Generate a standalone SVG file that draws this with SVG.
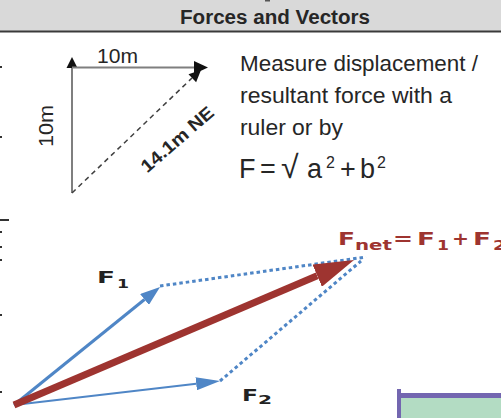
<svg xmlns="http://www.w3.org/2000/svg" width="501" height="418" viewBox="0 0 501 418">
<style>
.t{font-family:"Liberation Sans",Arial,sans-serif;fill:#262626}
.b{font-family:"DejaVu Sans",Verdana,sans-serif;font-weight:bold}
.gl{stroke:#7f7f7f;stroke-width:2;fill:none}
.dot{stroke:#4f86c6;stroke-width:3;stroke-dasharray:3.5 3;fill:none}
.mk{fill:#333}
</style>
<defs>
<marker id="hb1" markerUnits="userSpaceOnUse" viewBox="0 0 20 14" markerWidth="20" markerHeight="14" refX="0" refY="7" orient="auto"><path d="M0,0 L20,7 L0,14 z" fill="#4f86c6"/></marker>
<marker id="hb2" markerUnits="userSpaceOnUse" viewBox="0 0 24 13" markerWidth="24" markerHeight="13" refX="0" refY="6.5" orient="auto"><path d="M0,0 L24,6.5 L0,13 z" fill="#4f86c6"/></marker>
<marker id="hr" markerUnits="userSpaceOnUse" viewBox="0 0 40 24" markerWidth="40" markerHeight="24" refX="0" refY="12" orient="auto"><path d="M0,0 L40,12 L0,24 z" fill="#9e3430"/></marker>
</defs>

<g id="header">
<rect x="0" y="0" width="501" height="31" fill="#d9d9d9"/>
<rect x="265" y="0" width="5" height="1.5" fill="#555"/>
<line x1="0" y1="31.5" x2="501" y2="31.5" stroke="#3a3a3a" stroke-width="2"/>
<text x="275" y="24" text-anchor="middle" class="t" font-weight="bold" font-size="20" textLength="190" lengthAdjust="spacingAndGlyphs" fill="#1a1a1a">Forces and Vectors</text>
</g>

<g id="margin-marks">
<rect class="mk" x="0" y="66" width="2" height="2"/>
<rect class="mk" x="0" y="136" width="2" height="2"/>
<rect class="mk" x="0" y="219" width="9" height="2"/>
<rect class="mk" x="0" y="231" width="2" height="2"/>
<rect class="mk" x="0" y="246" width="2" height="2"/>
<rect class="mk" x="0" y="259" width="2" height="2"/>
<rect class="mk" x="0" y="314" width="2" height="2"/>
<rect class="mk" x="0" y="391" width="2" height="2"/>
</g>

<g id="triangle">
<line class="gl" x1="72" y1="67" x2="72" y2="193"/>
<polygon points="72,57 66.5,68 77.5,68" fill="#111"/>
<line class="gl" x1="72" y1="67.5" x2="197" y2="67.5"/>
<polygon points="208,67.5 194,61 194,74" fill="#111"/>
<line x1="72" y1="193" x2="192" y2="78" stroke="#404040" stroke-width="1.5" stroke-dasharray="5 4"/>
<polygon points="201,70 196.1,82.2 188.5,74.2" fill="#111"/>
<text class="t" x="97" y="63" font-size="20" textLength="41" lengthAdjust="spacingAndGlyphs" fill="#404040">10m</text>
<text class="t" transform="translate(53,126) rotate(-90)" x="0" y="0" text-anchor="middle" font-size="20" textLength="42" lengthAdjust="spacingAndGlyphs" fill="#404040">10m</text>
<text class="t" transform="translate(177,139) rotate(-41)" x="0" y="6.5" text-anchor="middle" font-size="18" font-weight="bold" textLength="90" lengthAdjust="spacingAndGlyphs" fill="#1a1a1a">14.1m NE</text>
</g>

<g id="explanation">
<text class="t" x="240" y="71" font-size="22" textLength="238" lengthAdjust="spacingAndGlyphs">Measure displacement /</text>
<text class="t" x="240" y="103" font-size="22" textLength="212" lengthAdjust="spacingAndGlyphs">resultant force with a</text>
<text class="t" x="240" y="135" font-size="22" textLength="103" lengthAdjust="spacingAndGlyphs">ruler or by</text>
<text class="t" y="178" font-size="27"><tspan x="239">F</tspan><tspan x="260">=</tspan><tspan x="281" font-size="32">√</tspan><tspan x="307" font-size="27">a</tspan><tspan x="326" y="168" font-size="16">2</tspan><tspan x="340" y="178">+</tspan><tspan x="360">b</tspan><tspan x="377" y="168" font-size="16">2</tspan></text>
</g>

<g id="connectors">
<path class="dot" d="M160,286 L366,257"/>
<path class="dot" d="M220,381 L361,261"/>
<path d="M14,405 L144.5,299.5" stroke="#4f86c6" stroke-width="3" fill="none" marker-end="url(#hb1)"/>
<path d="M14,405 L196.2,383.8" stroke="#4f86c6" stroke-width="2" fill="none" marker-end="url(#hb2)"/>
<path d="M14,405 L317.2,275.7" stroke="#9e3430" stroke-width="7" fill="none" marker-end="url(#hr)"/>
</g>

<g id="label-f1" class="b" fill="#222">
<text x="97" y="283" font-size="16" textLength="18" lengthAdjust="spacingAndGlyphs">F</text>
<text x="117" y="288" font-size="13" textLength="12" lengthAdjust="spacingAndGlyphs">1</text>
</g>
<g id="label-f2" class="b" fill="#222">
<text x="242" y="401" font-size="16" textLength="16" lengthAdjust="spacingAndGlyphs">F</text>
<text x="258" y="404" font-size="13" textLength="14" lengthAdjust="spacingAndGlyphs">2</text>
</g>
<g id="label-fnet" class="b" fill="#9e3430">
<text x="338" y="245" font-size="18" textLength="17" lengthAdjust="spacingAndGlyphs">F</text>
<text x="355" y="250" font-size="14" textLength="37" lengthAdjust="spacingAndGlyphs">net</text>
<text x="393" y="245" font-size="18" textLength="20" lengthAdjust="spacingAndGlyphs">=</text>
<text x="417" y="245" font-size="18" textLength="18" lengthAdjust="spacingAndGlyphs">F</text>
<text x="437" y="250" font-size="14" textLength="12" lengthAdjust="spacingAndGlyphs">1</text>
<text x="452" y="245" font-size="18" textLength="17" lengthAdjust="spacingAndGlyphs">+</text>
<text x="473" y="245" font-size="18" textLength="18" lengthAdjust="spacingAndGlyphs">F</text>
<text x="493" y="250" font-size="14" textLength="13" lengthAdjust="spacingAndGlyphs">2</text>
</g>

<g id="box">
<rect x="401" y="398" width="100" height="20" fill="#b3dcc3"/>
<rect x="397" y="393" width="104" height="5" fill="#7366b0"/>
<rect x="397" y="389" width="4" height="29" fill="#7366b0"/>
</g>
</svg>
